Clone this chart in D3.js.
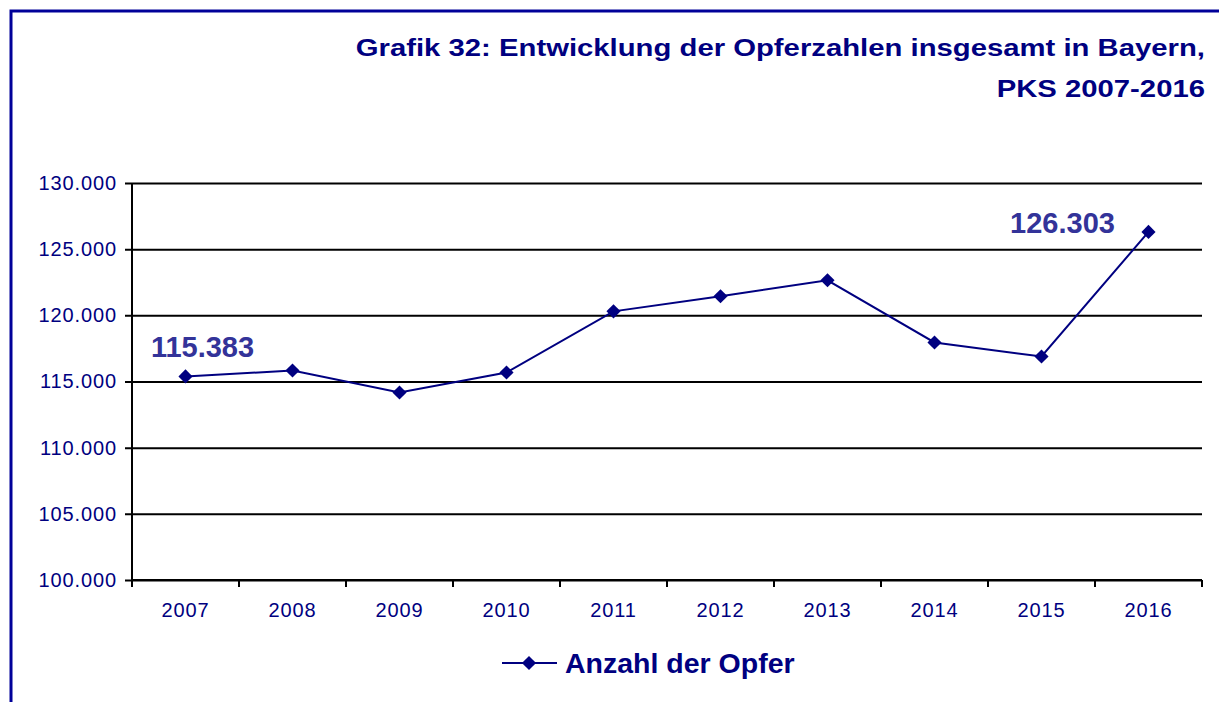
<!DOCTYPE html>
<html>
<head>
<meta charset="utf-8">
<script src="https://cdn.jsdelivr.net/npm/d3@7"></script>
<style>
  body { margin: 0; background: #fff; }
  svg text { font-family: "Liberation Sans", Arial, sans-serif; }
</style>
</head>
<body>
<svg id="chart" width="1219" height="702"></svg>
<script>
// values
var years = ["2007", "2008", "2009", "2010", "2011", "2012", "2013", "2014", "2015", "2016"];
var victims = [115383, 115830, 114170, 115680, 120300, 121440, 122650, 117950, 116890, 126303];
var yTicks = [100000, 105000, 110000, 115000, 120000, 125000, 130000];
var labelled = {"2007": "115.383", "2016": "126.303"};

var navy = "#000080";
var margin = {top: 183, right: 17, bottom: 122, left: 132};
var width = 1219, height = 702;

var svg = d3.select("#chart");

// frame (only top and left edges are visible)
svg.append("path")
    .attr("d", "M11,702 L11,11 L1219,11")
    .attr("fill", "none")
    .attr("stroke", "#000099")
    .attr("stroke-width", 3);

// title, drawn a bit wide like the original
[["Grafik 32: Entwicklung der Opferzahlen insgesamt in Bayern,", 56], ["PKS 2007-2016", 97]]
    .forEach(function (t) {
        svg.append("text")
            .attr("transform", "translate(1205," + t[1] + ") scale(1.22,1)")
            .attr("text-anchor", "end")
            .attr("font-size", 24).attr("font-weight", "bold")
            .attr("fill", navy)
            .text(t[0]);
    });

var x = d3.scaleBand()
    .domain(years)
    .range([margin.left, width - margin.right]);

var y = d3.scaleLinear()
    .domain([100000, 130000])
    .range([height - margin.bottom, margin.top]);

var fmt = function (d) { return d3.format(",")(d).replace(/,/g, "."); };

// gridlines + y axis
var yAxis = svg.append("g")
    .attr("transform", "translate(" + margin.left + ",0)")
    .call(d3.axisLeft(y).tickValues(yTicks).tickFormat(fmt)
        .tickSize(-(width - margin.right - margin.left)).tickPadding(15));
yAxis.select(".domain").remove();
yAxis.selectAll(".tick line").attr("stroke", "#000").attr("stroke-width", 2)
    .attr("x1", -7);
yAxis.selectAll(".tick text")
    .attr("fill", navy).attr("font-size", 20)
    .style("letter-spacing", "0.9px")
    .style("font-family", "'Liberation Sans', Arial, sans-serif");

svg.append("line")
    .attr("x1", margin.left).attr("x2", margin.left)
    .attr("y1", margin.top).attr("y2", height - margin.bottom + 7)
    .attr("stroke", "#000").attr("stroke-width", 2);

// x axis with ticks between categories
var xAxis = svg.append("g")
    .attr("transform", "translate(0," + (height - margin.bottom) + ")");
xAxis.append("line")
    .attr("x1", margin.left).attr("x2", width - margin.right)
    .attr("stroke", "#000").attr("stroke-width", 2);
xAxis.selectAll(".sep")
    .data(years.concat(["end"]))
    .join("line")
    .attr("x1", function (d, i) { return margin.left + i * x.bandwidth(); })
    .attr("x2", function (d, i) { return margin.left + i * x.bandwidth(); })
    .attr("y1", 0).attr("y2", 7)
    .attr("stroke", "#000").attr("stroke-width", 2);
xAxis.selectAll(".lbl")
    .data(years)
    .join("text")
    .attr("x", function (d) { return x(d) + x.bandwidth() / 2; })
    .attr("y", 37)
    .attr("text-anchor", "middle")
    .attr("font-size", 20)
    .style("letter-spacing", "0.9px")
    .attr("fill", navy)
    .text(function (d) { return d; });

// series
var line = d3.line()
    .x(function (d, i) { return x(years[i]) + x.bandwidth() / 2; })
    .y(function (d) { return y(d); });

svg.append("path")
    .datum(victims)
    .attr("d", line)
    .attr("fill", "none")
    .attr("stroke", navy)
    .attr("stroke-width", 2);

var marker = d3.symbol().type(d3.symbolSquare).size(100);
svg.selectAll(".pt")
    .data(victims)
    .join("path")
    .attr("d", marker)
    .attr("transform", function (d, i) {
        return "translate(" + (x(years[i]) + x.bandwidth() / 2) + "," + y(d) + ") rotate(45)";
    })
    .attr("fill", navy);

// value labels
svg.selectAll(".val")
    .data(years.filter(function (d) { return labelled[d]; }))
    .join("text")
    .attr("x", function (d) { return x(d) + x.bandwidth() / 2 + (d === "2007" ? 17 : -86); })
    .attr("y", function (d) { return d === "2007" ? y(victims[0]) - 19 : y(victims[9]) + 1; })
    .attr("text-anchor", "middle")
    .attr("font-size", 29).attr("font-weight", "bold")
    .attr("fill", "#333399")
    .text(function (d) { return labelled[d]; });

// legend
var lg = svg.append("g").attr("transform", "translate(502,663)");
lg.append("line").attr("x1", 0).attr("x2", 55)
    .attr("stroke", navy).attr("stroke-width", 2);
lg.append("path").attr("d", marker).attr("transform", "translate(27,0) rotate(45)")
    .attr("fill", navy);
lg.append("text").attr("x", 63).attr("y", 10)
    .attr("font-size", 28.5).attr("font-weight", "bold")
    .attr("fill", navy)
    .text("Anzahl der Opfer");
</script>
</body>
</html>
